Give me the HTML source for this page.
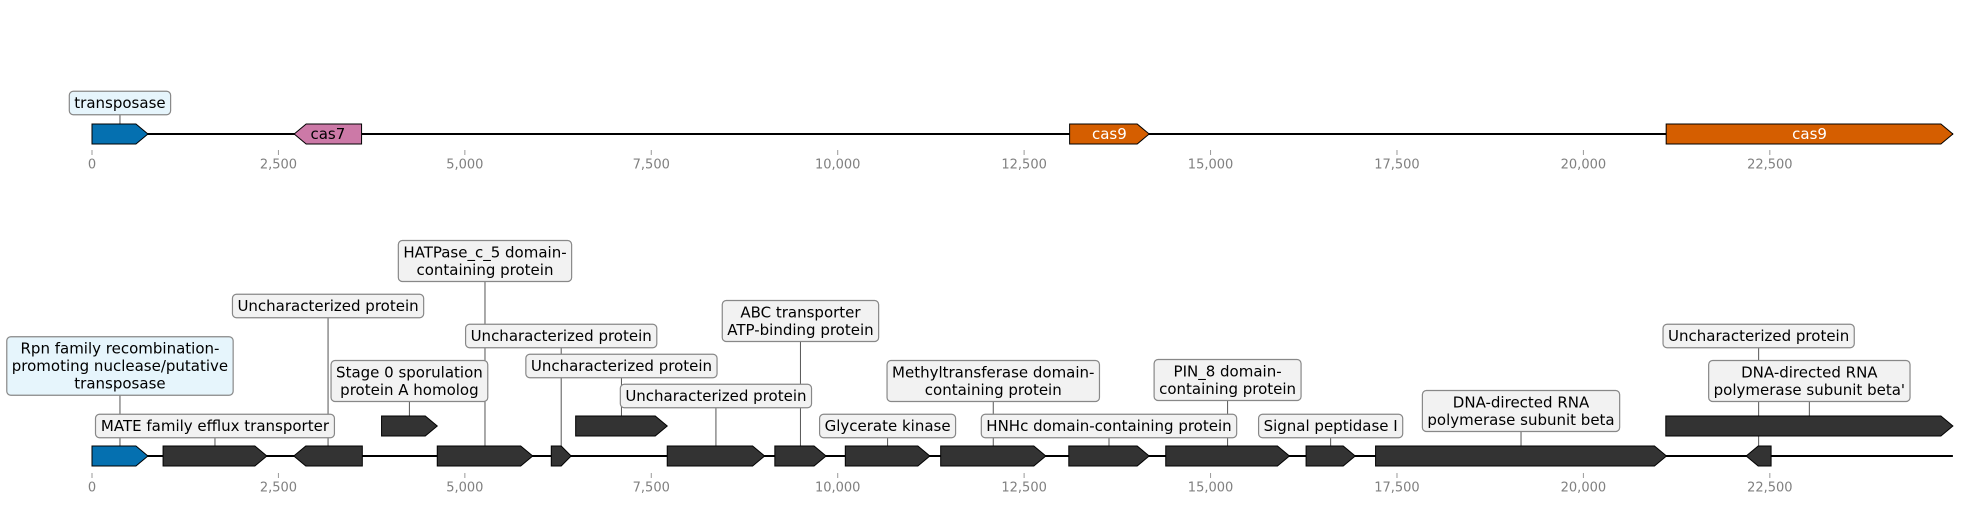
<!DOCTYPE html>
<html><head><meta charset="utf-8">
<style>
html,body{margin:0;padding:0;background:#fff;}
svg{display:block;}
text{font-family:"DejaVu Sans","Liberation Sans",sans-serif;}
</style></head>
<body>
<svg id="chart" width="1961" height="505" viewBox="0 0 1961 505">
<g id="connectors"></g><g id="tracks"></g><g id="genes"></g><g id="labels"></g>
</svg>
<script>
// ---- data ----
const seqLength = 24955;
const tickValues = [0, 2500, 5000, 7500, 10000, 12500, 15000, 17500, 20000, 22500];
const tickLabels = ["0","2,500","5,000","7,500","10,000","12,500","15,000","17,500","20,000","22,500"];
// top track genes: start, end, strand, color, inner label
const topStarts = [0, 2711, 13110, 21110];
const topEnds = [750, 3615, 14177, 24955];
const topStrands = [1, -1, 1, 1];
const topColors = ["#0570b0", "#cc79a7", "#d55e00", "#d55e00"];
const topNames = ["", "cas7", "cas9", "cas9"];
const topTextColors = ["#000", "#000", "#fff", "#fff"];
// bottom track genes
const botStarts = [0, 953, 2706, 3883, 4630, 6159, 6486, 7714, 9157, 10102, 11381, 13099, 14399, 16281, 17213, 21105, 22183];
const botEnds = [750, 2345, 3625, 4630, 5910, 6425, 7714, 9020, 9844, 11236, 12791, 14177, 16058, 16940, 21114, 24955, 22517];
const botStrands = [1, 1, -1, 1, 1, 1, 1, 1, 1, 1, 1, 1, 1, 1, 1, 1, -1];
const botRows = [0, 0, 0, 1, 0, 0, 1, 0, 0, 0, 0, 0, 0, 0, 0, 1, 0];
const botColors = ["#0570b0","#333","#333","#333","#333","#333","#333","#333","#333","#333","#333","#333","#333","#333","#333","#333","#333"];
// labels
const topLabelTexts = ["transposase"];
const topLabelGene = [0];
const botLabelTexts = [
 "Rpn family recombination-\npromoting nuclease/putative\ntransposase",
 "MATE family efflux transporter",
 "Uncharacterized protein",
 "Stage 0 sporulation\nprotein A homolog",
 "HATPase_c_5 domain-\ncontaining protein",
 "Uncharacterized protein",
 "Uncharacterized protein",
 "Uncharacterized protein",
 "ABC transporter\nATP-binding protein",
 "Glycerate kinase",
 "Methyltransferase domain-\ncontaining protein",
 "HNHc domain-containing protein",
 "PIN_8 domain-\ncontaining protein",
 "Signal peptidase I",
 "DNA-directed RNA\npolymerase subunit beta",
 "DNA-directed RNA\npolymerase subunit beta'",
 "Uncharacterized protein"
];
const botLabelGene = [0,1,2,3,4,5,6,7,8,9,10,11,12,13,14,15,16];
// layout (box vertical centres, px)
const topLabelY = [103];
const botLabelY = [366,426,306,381,261,336,366,396,321,426,381,426,380,426,411,381,336];
const botLabelFill = ["#e6f5fc","#f2f2f2","#f2f2f2","#f2f2f2","#f2f2f2","#f2f2f2","#f2f2f2","#f2f2f2","#f2f2f2","#f2f2f2","#f2f2f2","#f2f2f2","#f2f2f2","#f2f2f2","#f2f2f2","#f2f2f2","#f2f2f2"];

// ---- layout ----
const NS = "http://www.w3.org/2000/svg";
const X0 = 92, SCALE = 0.07457;
const xs = bp => X0 + bp * SCALE;
const GH = 20;
const topAxisY = 134, botAxisY = 456, botRow1Y = 426;
const gConn = document.getElementById('connectors');
const gTracks = document.getElementById('tracks');
const gGenes = document.getElementById('genes');
const gLabels = document.getElementById('labels');
function mk(tag, attrs, parent){const e=document.createElementNS(NS,tag);for(const k in attrs)e.setAttribute(k,attrs[k]);parent.appendChild(e);return e;}

function drawAxis(y, tickTop, labelY, name){
  const l = mk('line',{x1:xs(0),x2:xs(seqLength),y1:y,y2:y,stroke:'#000','stroke-width':2},gTracks);
  
  
  tickValues.forEach((v,i)=>{
    const t = mk('line',{x1:xs(v),x2:xs(v),y1:tickTop,y2:tickTop+5,stroke:'#999','stroke-width':1},gTracks);
    
    
    const tx = mk('text',{x:xs(v),y:labelY,'text-anchor':'middle','dominant-baseline':'central','font-size':13,fill:'#808080'},gTracks);
    tx.textContent = tickLabels[i];
    
    
  });
}
drawAxis(topAxisY, 150, 165, 'top-track');
drawAxis(botAxisY, 473, 488, 'bottom-track');

function arrowPath(s,e,strand,cy){
  const x1=xs(s), x2=xs(e), w=x2-x1, h=Math.min(12,w*0.5), t=cy-GH/2, b=cy+GH/2;
  if(strand>0) return `M${x1},${t}L${x2-h},${t}L${x2},${cy}L${x2-h},${b}L${x1},${b}Z`;
  return `M${x2},${t}L${x1+h},${t}L${x1},${cy}L${x1+h},${b}L${x2},${b}Z`;
}
function drawGene(s,e,strand,cy,color,name){
  const p = mk('path',{d:arrowPath(s,e,strand,cy),fill:color,stroke:'#000','stroke-width':1},gGenes);
  
  
  return p;
}
topStarts.forEach((s,i)=>{
  drawGene(s,topEnds[i],topStrands[i],topAxisY,topColors[i],'top-gene-'+(topNames[i]||'transposase'));
  if(topNames[i]){
    const t = mk('text',{x:(xs(s)+xs(topEnds[i]))/2,y:topAxisY,'text-anchor':'middle','dominant-baseline':'central','font-size':15,fill:topTextColors[i]},gGenes);
    t.textContent = topNames[i];
    
    
  }
});
botStarts.forEach((s,i)=>{
  const cy = botRows[i] ? botRow1Y : botAxisY;
  drawGene(s,botEnds[i],botStrands[i],cy,botColors[i],'bottom-gene-'+(i+1));
});

function drawLabel(text, geneStart, geneEnd, geneCy, boxCy, fill, name){
  const cx = (xs(geneStart)+xs(geneEnd))/2;
  const lines = text.split('\n'), lh = 17.5, fs = 15;
  const g = mk('g',{},gLabels);
  
  
  const txt = mk('text',{'text-anchor':'middle','font-size':fs,fill:'#000'},g);
  lines.forEach((ln,k)=>{
    const ts = mk('tspan',{x:cx,y:boxCy+(k-(lines.length-1)/2)*lh,'dominant-baseline':'central'},txt);
    ts.textContent = ln;
  });
  const bb = txt.getBBox();
  const bw = bb.width+10, bh = lines.length*lh+6;
  const rect = mk('rect',{x:cx-bw/2,y:boxCy-bh/2,width:bw,height:bh,rx:4,fill:fill,stroke:'#888','stroke-width':1.2},g);
  g.insertBefore(rect, txt);
  const c = mk('line',{x1:cx,x2:cx,y1:boxCy+bh/2,y2:geneCy-GH/2,stroke:'#555','stroke-width':1},gConn);
  
  
}
topLabelTexts.forEach((t,i)=>{
  const gi = topLabelGene[i];
  drawLabel(t, topStarts[gi], topEnds[gi], topAxisY, topLabelY[i], '#e6f5fc', 'top-label-'+(i+1));
});
botLabelTexts.forEach((t,i)=>{
  const gi = botLabelGene[i];
  const cy = botRows[gi] ? botRow1Y : botAxisY;
  drawLabel(t, botStarts[gi], botEnds[gi], cy, botLabelY[i], botLabelFill[i], 'bottom-label-'+(i+1));
});
</script>
</body></html>
